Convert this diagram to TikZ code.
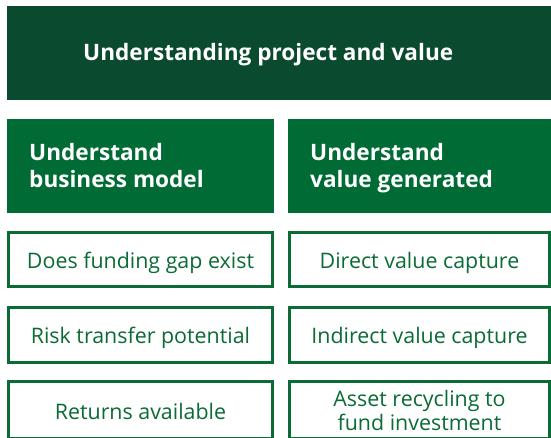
\documentclass[tikz,border=0pt]{standalone}
\usepackage{fontspec}
\setmainfont{Open Sans}
\definecolor{topgreen}{HTML}{0A4A2E}
\definecolor{headgreen}{HTML}{006B35}
\definecolor{linegreen}{HTML}{0B6B35}
\begin{document}
\begin{tikzpicture}[x=1pt,y=-1pt,
  topbox/.style={fill=topgreen,draw=none},
  headbox/.style={fill=headgreen,draw=none},
  itembox/.style={draw=linegreen,line width=2.6pt,fill=white},
  headtext/.style={text=white,font=\bfseries\fontsize{22.6}{27}\selectfont,align=left,anchor=base west,inner sep=0pt},
  itemtext/.style={text=linegreen,font=\fontsize{21.4}{24}\selectfont,align=center,inner sep=0pt}]
\useasboundingbox (0,0) rectangle (551,438);
\fill[white] (0,0) rectangle (551,438);
\path[topbox] (7,6) rectangle (551,100);
\node[text=white,font=\bfseries\fontsize{22.6}{26}\selectfont,anchor=west,inner sep=0pt] (title) at (83,54.5) {Understanding project and value};
\path[headbox] (7,119) rectangle (274,213);
\path[headbox] (288,119) rectangle (551,213);
\node[headtext] (h1) at (29,188) {Understand\\business model};
\node[headtext] (h2) at (310,188) {Understand\\value generated};
\draw[itembox] (8.3,232.3) rectangle (272.7,286.7);
\draw[itembox] (289.3,232.3) rectangle (549.7,286.7);
\draw[itembox] (8.3,307.3) rectangle (272.7,362.7);
\draw[itembox] (289.3,307.3) rectangle (549.7,362.7);
\draw[itembox] (8.3,381.3) rectangle (272.7,438);
\draw[itembox] (289.3,381.3) rectangle (549.7,438);
\node[itemtext] (a1) at (140.5,262.5) {Does funding gap exist};
\node[itemtext] (b1) at (419.5,262.5) {Direct value capture};
\node[itemtext] (a2) at (140.5,337.5) {Risk transfer potential};
\node[itemtext] (b2) at (419.5,337.5) {Indirect value capture};
\node[itemtext] (a3) at (140.5,411) {Returns available};
\node[itemtext] (b3) at (419.5,410) {Asset recycling to\\fund investment};
\end{tikzpicture}
\end{document}
